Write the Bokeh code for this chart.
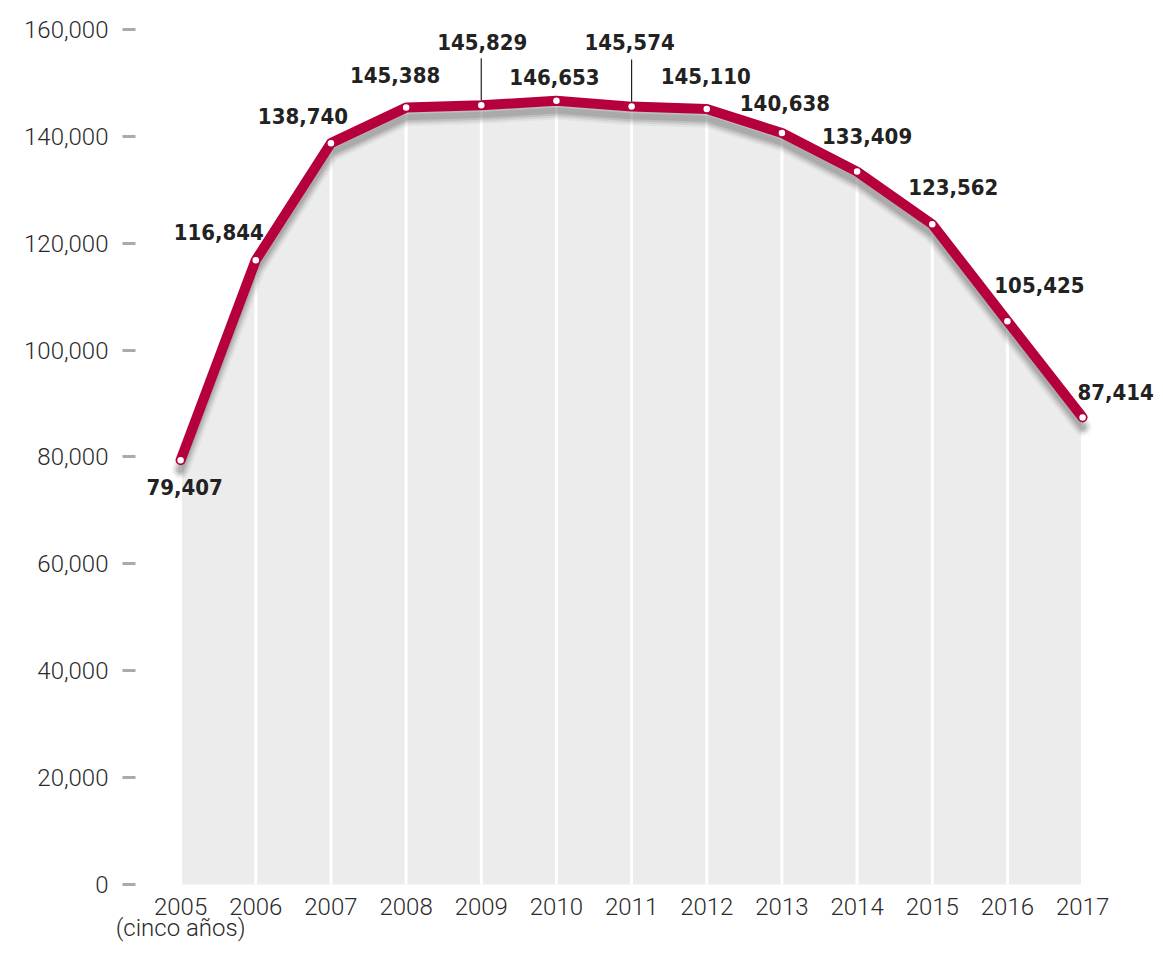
from bokeh.plotting import figure
from bokeh.models import FixedTicker, NumeralTickFormatter, ColumnDataSource, Range1d
from bokeh.core.properties import value
from bokeh.embed import file_html
from bokeh.resources import INLINE

years = [2005, 2006, 2007, 2008, 2009, 2010, 2011, 2012, 2013, 2014, 2015, 2016, 2017]
year_labels = ["2005", "2006", "2007", "2008", "2009", "2010", "2011", "2012", "2013",
               "2014", "2015", "2016", "2017"]
values = [79407, 116844, 138740, 145388, 145829, 146653, 145574, 145110, 140638, 133409, 123562, 105425, 87414]
value_labels = ["79,407", "116,844", "138,740", "145,388", "145,829", "146,653", "145,574",
                "145,110", "140,638", "133,409", "123,562", "105,425", "87,414"]
y_ticks = [0, 20000, 40000, 60000, 80000, 100000, 120000, 140000, 160000]
first_label_note = "(cinco años)"

# label placement (screen px offsets from each point)
label_dx = [4, -37, -28, -11, 1, -2, -2, -1, 3, 10, 21, 32, 33]
label_dy = [27, -28, -27, -33, -63, -24, -65, -33, -30, -36, -37, -36, -25]

RED = "#b5003b"
VALUE_FONT = "'DejaVu Sans Condensed', 'Roboto Condensed', Roboto, sans-serif"
TICK_FONT = "'Roboto Light', Roboto, sans-serif"
TICK_COLOR = "#2a2a2a"

p = figure(width=1155, height=944, output_backend="svg", toolbar_location=None,
           x_range=Range1d(2004.40, 2017.97), y_range=Range1d(-8244, 165060),
           min_border_left=135, min_border_right=0, min_border_top=2, min_border_bottom=10)
p.outline_line_color = None
p.xgrid.visible = False
p.ygrid.visible = False
p.background_fill_color = "white"

n = len(years)
# area
p.varea(x=years, y1=[0] * n, y2=values, fill_color="#ececec")
# white verticals
p.segment(x0=years, y0=[0] * n, x1=years, y1=values, line_color="white", line_width=3)

# shadow (soft)
shadow = [v - 1800 for v in values]
for w, a in [(18, 0.08), (14, 0.13), (10, 0.2), (6, 0.25)]:
    p.line(years, shadow, line_color="#6e6e6e", line_width=w, line_alpha=a,
           line_cap="round", line_join="round")

# main line
p.line(years, values, line_color=RED, line_width=10, line_cap="round", line_join="round")
p.scatter(years, values, size=6.5, fill_color="white", line_color=None)

# leader lines for 2009 and 2011
lead_x = [years[4], years[6]]
lead_y0 = [values[4] + 900, values[6] + 900]
lead_y1 = [values[4] + 8800, values[6] + 8800]
p.segment(x0=lead_x, y0=lead_y0, x1=lead_x, y1=lead_y1, line_color="#222222", line_width=1.2)

src = ColumnDataSource(dict(x=years, y=values, t=value_labels, dx=label_dx, dy=label_dy))
p.text(x="x", y="y", text="t", x_offset="dx", y_offset="dy", source=src,
       text_font=value(VALUE_FONT), text_font_style="bold",
       text_font_size="22px", text_color="#222222", text_align="center", text_baseline="middle")

# year labels under the zero line
p.text(x=years, y=[0] * n, text=year_labels, y_offset=22,
       text_font=value(TICK_FONT), text_font_size="24px", text_color=TICK_COLOR,
       text_align="center", text_baseline="middle")

# x axis carries only the note under 2005
p.xaxis.ticker = FixedTicker(ticks=[years[0]])
p.xaxis.major_label_overrides = {years[0]: first_label_note}
p.xaxis.axis_line_color = None
p.xaxis.major_tick_line_color = None
p.xaxis.minor_tick_line_color = None
p.xaxis.major_tick_out = 0
p.xaxis.major_tick_in = 0
p.xaxis.major_label_standoff = -15
p.xaxis.major_label_text_font = TICK_FONT
p.xaxis.major_label_text_font_size = "24px"
p.xaxis.major_label_text_color = TICK_COLOR

# y axis
p.yaxis.ticker = FixedTicker(ticks=y_ticks)
p.yaxis.formatter = NumeralTickFormatter(format="0,0")
p.yaxis.axis_line_color = None
p.yaxis.major_tick_out = 13
p.yaxis.major_tick_in = 0
p.yaxis.major_tick_line_color = "#aaaaaa"
p.yaxis.major_tick_line_width = 3
p.yaxis.minor_tick_line_color = None
p.yaxis.major_label_standoff = 14
p.yaxis.major_label_text_font = TICK_FONT
p.yaxis.major_label_text_font_size = "24px"
p.yaxis.major_label_text_color = TICK_COLOR

open("out.html", "w").write(file_html(p, INLINE))
